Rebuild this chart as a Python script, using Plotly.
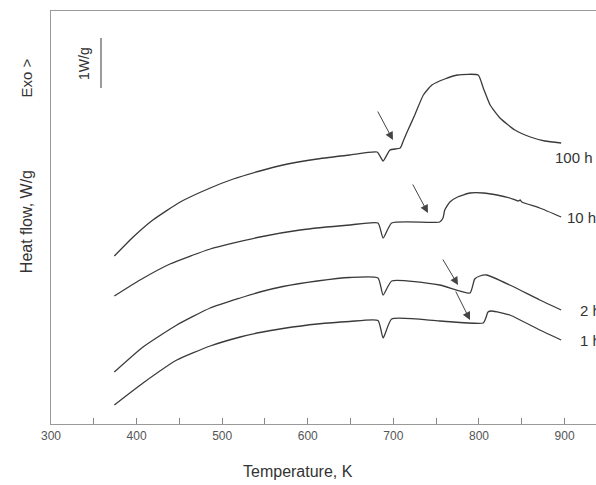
import plotly.graph_objects as go

# Temperature (K) and heat flow (W/g, arbitrary vertical offset)
t_100h = [374, 396, 419, 451, 486, 513, 544, 571, 611, 649, 681, 688, 696, 708, 712, 716, 725, 735, 745, 760, 775, 799, 805, 813, 824.5, 842, 860, 877, 896]
q_100h = [3.36, 3.74, 4.08, 4.44, 4.72, 4.90, 5.06, 5.18, 5.30, 5.38, 5.44, 5.26, 5.48, 5.52, 5.68, 5.84, 6.18, 6.58, 6.78, 6.90, 6.98, 6.98, 6.72, 6.38, 6.12, 5.88, 5.74, 5.66, 5.62]

t_10h = [374, 404, 439, 486, 544, 591, 649, 682, 688, 698, 754, 758, 760, 766, 775, 789.5, 805, 821, 836, 846, 848, 850, 871, 896]
q_10h = [2.56, 2.88, 3.20, 3.50, 3.74, 3.88, 3.98, 4.02, 3.72, 4.02, 4.04, 4.12, 4.28, 4.44, 4.54, 4.62, 4.62, 4.58, 4.52, 4.46, 4.48, 4.44, 4.32, 4.14]

t_2h = [374, 407.5, 447, 486, 521, 544, 571, 611, 649, 682, 688, 698, 754, 789.5, 795, 801, 809, 836, 871, 896]
q_2h = [1.04, 1.54, 1.98, 2.32, 2.52, 2.64, 2.75, 2.86, 2.93, 2.92, 2.58, 2.86, 2.78, 2.62, 2.90, 2.96, 2.98, 2.78, 2.48, 2.28]

t_1h = [374, 407.5, 447, 486, 521, 544, 571, 611, 649, 682, 688, 698, 754, 805, 808, 810.5, 815, 836, 871, 896]
q_1h = [0.38, 0.82, 1.28, 1.56, 1.74, 1.83, 1.91, 2.00, 2.05, 2.07, 1.72, 2.10, 2.06, 2.02, 2.12, 2.24, 2.26, 2.18, 1.88, 1.68]

series = [("100 h", t_100h, q_100h, 886, 5.34),
          ("10 h", t_10h, q_10h, 900, 4.14),
          ("2 h", t_2h, q_2h, 915.6, 2.28),
          ("1 h", t_1h, q_1h, 915.6, 1.68)]

# arrows: (tail T, tail q, head T, head q)
arrows = [(680.8, 6.28, 699.5, 5.68),
          (721.7, 4.82, 740.4, 4.22),
          (756.8, 3.32, 775.5, 2.78),
          (772.0, 2.68, 789.5, 2.08)]

x_ticks = [300, 400, 500, 600, 700, 800, 900]
x_range = [300, 936.7]
y_range = [0, 8.26]
scale_T = 358.4
scale_q = [6.72, 7.72]

fig = go.Figure()
for name, t, q, lx, ly in series:
    fig.add_trace(go.Scatter(x=t, y=q, mode="lines", name=name,
                             line=dict(color="#3a3a3a", width=1.3, shape="spline", smoothing=0.5),
                             showlegend=False, hoverinfo="skip"))
    fig.add_annotation(x=lx, y=ly, text=name, showarrow=False, xanchor="left",
                       yanchor="middle", font=dict(size=15, color="#333333"))

for tx, ty, hx, hy in arrows:
    fig.add_annotation(x=hx, y=hy, ax=tx, ay=ty, xref="x", yref="y", axref="x", ayref="y",
                       text="", showarrow=True, arrowhead=2, arrowsize=1.6,
                       arrowwidth=1, arrowcolor="#444444", standoff=0)

# scale bar
fig.add_trace(go.Scatter(x=[scale_T, scale_T], y=scale_q, mode="lines",
                         line=dict(color="#666666", width=1.3), showlegend=False,
                         hoverinfo="skip"))
fig.add_annotation(x=scale_T, y=sum(scale_q) / 2, text="1W/g", showarrow=False,
                   textangle=-90, xanchor="right", xshift=-7, font=dict(size=14, color="#333333"))

# axis titles
fig.add_annotation(x=0.5, y=-0.09, xref="paper", yref="paper", text="Temperature, K",
                   showarrow=False, yanchor="top", xshift=-26,
                   font=dict(size=16, color="#333333"))
fig.add_annotation(x=0, y=0.49, xref="paper", yref="paper", text="Heat flow, W/g",
                   showarrow=False, textangle=-90, xanchor="right", xshift=-14,
                   font=dict(size=16, color="#333333"))
fig.add_annotation(x=0, y=0.89, xref="paper", yref="paper", text="Exo >",
                   showarrow=False, textangle=-90, xanchor="right", xshift=-14,
                   font=dict(size=15, color="#333333"))

fig.update_layout(
    width=596, height=485,
    margin=dict(l=51, r=0, t=11, b=61),
    paper_bgcolor="white", plot_bgcolor="white",
    font=dict(family="Liberation Sans, Arial, sans-serif"),
    xaxis=dict(range=x_range, tickvals=x_ticks, ticks="inside", ticklen=6,
               tickcolor="#888888", showline=True, linecolor="#999999", linewidth=1.2,
               mirror=True, showgrid=False, zeroline=False,
               tickfont=dict(size=12, color="#555555"),
               minor=dict(dtick=50, tick0=300, ticks="inside", ticklen=6, tickcolor="#888888")),
    yaxis=dict(range=y_range, showticklabels=False, ticks="", showline=True,
               linecolor="#999999", linewidth=1.2, showgrid=False, zeroline=False),
)

fig.write_html("out.html")
